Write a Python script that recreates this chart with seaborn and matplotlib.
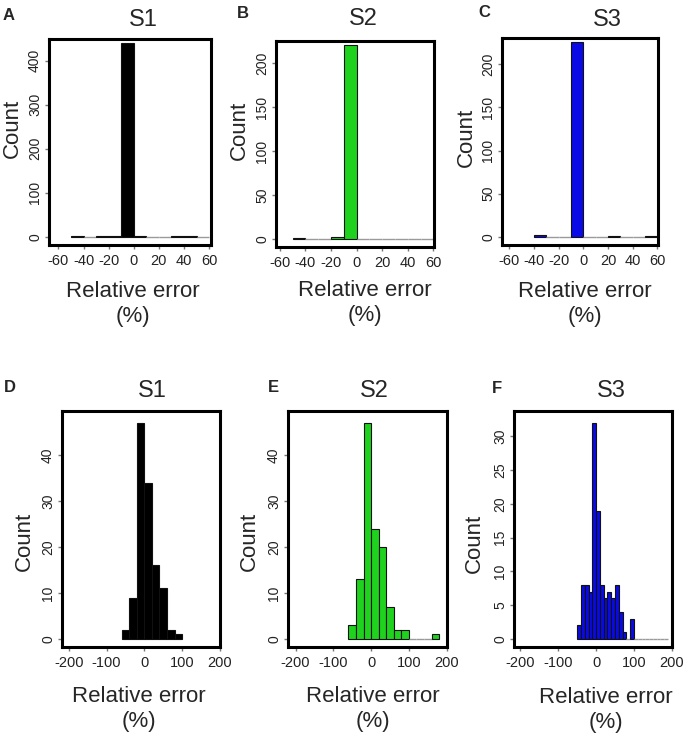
import numpy as np
import pandas as pd
import matplotlib
matplotlib.use("Agg")
import matplotlib.pyplot as plt
import seaborn as sns


# Histogram data (bin edges + counts per bin)

# top row, relative error -60..60
a_bins = [-50, -40, -30, -20, -10, 0, 10, 20, 30, 40, 50, 60]
a_counts = [1, 0, 1, 2, 440, 2, 0, 0, 1, 1, 0]

b_bins = [-50, -40, -30, -20, -10, 0, 10, 20, 30, 40, 50, 60]
b_counts = [1, 0, 0, 2, 221, 0, 0, 0, 0, 0, 0]

c_bins = [-40, -30, -20, -10, 0, 10, 20, 30, 40, 50, 60]
c_counts = [2, 0, 0, 226, 0, 0, 1, 0, 0, 1]

# bottom row, relative error -200..200
d_bins = [-60, -40, -20, 0, 20, 40, 60, 80, 100]
d_counts = [2, 9, 47, 34, 16, 11, 2, 1]

e_bins = [-60, -40, -20, 0, 20, 40, 60, 80, 100, 120, 140, 160, 180]
e_counts = [3, 13, 47, 24, 20, 7, 2, 2, 0, 0, 0, 1]

f_bins = [-50, -40, -30, -20, -10, 0, 10, 20, 30, 40, 50, 60, 70, 80, 90,
          100, 110, 120, 130, 140, 150, 160, 170, 180, 190]
f_counts = [2, 8, 8, 7, 32, 19, 8, 6, 7, 6, 8, 4, 1, 0, 3,
            0, 0, 0, 0, 0, 0, 0, 0, 0]

letters = ["A", "B", "C", "D", "E", "F"]
titles = ["S1", "S2", "S3", "S1", "S2", "S3"]
top_xticks = [-60, -40, -20, 0, 20, 40, 60]
bottom_xticks = [-200, -100, 0, 100, 200]
yticks = [
    [0, 100, 200, 300, 400],
    [0, 50, 100, 150, 200],
    [0, 50, 100, 150, 200],
    [0, 10, 20, 30, 40],
    [0, 10, 20, 30, 40],
    [0, 5, 10, 15, 20, 25, 30],
]

all_bins = [a_bins, b_bins, c_bins, d_bins, e_bins, f_bins]
all_counts = [a_counts, b_counts, c_counts, d_counts, e_counts, f_counts]

BLACK = "#000000"
GREEN = "#1ed21e"
BLUE = "#0a0ae6"
colors = [BLACK, GREEN, BLUE, BLACK, GREEN, BLUE]

# layout, in pixels of the 692x739 picture
W, H = 692, 739
boxes = [(49, 39, 211, 245), (276, 41, 434, 247), (502, 38, 658, 245),
         (62, 411, 220, 647), (288, 411, 447, 647), (514, 411, 672, 647)]
xlims = [(-67.5, 61.5), (-63, 60.5), (-66, 60.5),
         (-218, 200.5), (-220, 201), (-217, 200.5)]
ylab_pos = [(12, 128), (239, 130), (466, 137), (24, 541), (249, 541), (474, 543)]
xlab_pos = [(133, 304), (365, 303), (585, 304), (139, 709), (373, 709), (606, 710)]
title_pos = [(143, 26), (363, 25), (607, 26), (152, 397), (374, 397), (611, 397)]
letter_pos = [(3, 20), (237, 18), (478, 17), (4, 392), (268, 392), (492, 393)]


sns.set_style("white")
plt.rcParams["font.family"] = ["Liberation Sans", "DejaVu Sans"]
plt.rcParams["axes.unicode_minus"] = False

fig = plt.figure(figsize=(W / 100, H / 100), dpi=100)

for i in range(6):
    x0, y0, x1, y1 = boxes[i]
    ax = fig.add_axes([x0 / W, 1 - y1 / H, (x1 - x0) / W, (y1 - y0) / H])

    edges = np.array(all_bins[i], dtype=float)
    mids = (edges[:-1] + edges[1:]) / 2
    df = pd.DataFrame({"err": mids, "n": all_counts[i]})

    sns.histplot(
        data=df,
        x="err",
        weights="n",
        bins=list(all_bins[i]),
        color=colors[i],
        edgecolor="#111111",
        linewidth=0.8,
        alpha=1,
        ax=ax
    )

    # empty bins show up as a thin grey line in the original
    for p in ax.patches:
        if p.get_height() == 0:
            p.set_edgecolor("#9a9a9a")
            p.set_linewidth(1.0)

    m = max(all_counts[i])
    if i < 3:
        ax.set_ylim(-0.042 * m, 1.02 * m)
        ax.set_xticks(top_xticks)
    else:
        ax.set_ylim(-0.037 * m, 1.055 * m)
        ax.set_xticks(bottom_xticks)
    ax.set_xlim(*xlims[i])
    ax.set_yticks(yticks[i])

    for s in ax.spines.values():
        s.set_visible(True)
        s.set_color("black")
        s.set_linewidth(2.2)

    ax.tick_params(axis="x", labelsize=10.5, length=3, width=1,
                   color="#777777", labelcolor="#222222", pad=3.5, bottom=True)
    ax.tick_params(axis="y", labelsize=10, length=3, width=1,
                   color="#777777", labelcolor="#222222", pad=2, left=True,
                   labelrotation=90)
    for t in ax.get_yticklabels():
        t.set_va("center")

    ax.set_xlabel("Relative error\n(%)", fontsize=16, linespacing=1.25)
    ax.xaxis.label.set_va("center")
    lx, ly = xlab_pos[i]
    ax.xaxis.set_label_coords((lx - x0) / (x1 - x0), (y1 - ly) / (y1 - y0))

    ax.set_ylabel("Count", fontsize=16)
    ax.yaxis.label.set_va("center")
    yx, yy = ylab_pos[i]
    ax.yaxis.set_label_coords((yx - x0) / (x1 - x0), (y1 - yy) / (y1 - y0))

    tx, ty = title_pos[i]
    fig.text(tx / W, 1 - ty / H, titles[i], ha="center", va="baseline",
             fontsize=17)
    lx, ly = letter_pos[i]
    fig.text(lx / W, 1 - ly / H, letters[i], ha="left", va="baseline",
             fontsize=12, fontweight="bold")

fig.savefig("out.png", dpi=100, facecolor="white")
